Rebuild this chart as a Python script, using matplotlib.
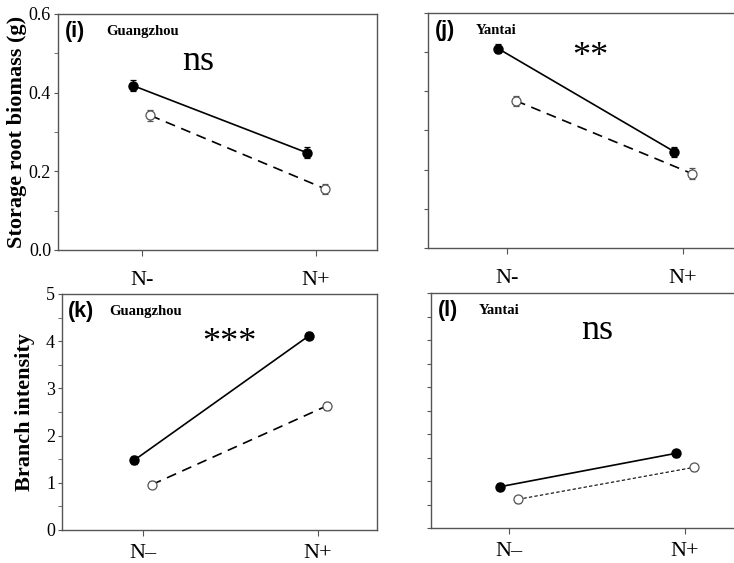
import matplotlib
matplotlib.use("Agg")
import matplotlib.pyplot as plt
from matplotlib.ticker import MultipleLocator

plt.rcParams["font.family"] = ["Liberation Serif", "DejaVu Serif"]

# category positions and labels
cats = [1, 2]
cat_labels_top = ["N-", "N+"]
cat_labels_bot = ["N\u2013", "N+"]
offset = 0.05

# storage root biomass (g)
gz_bio_fill = [0.418, 0.247]
gz_bio_fill_err = [0.015, 0.014]
gz_bio_open = [0.342, 0.156]
gz_bio_open_err = [0.015, 0.013]

yt_bio_fill = [0.509, 0.246]
yt_bio_fill_err = [0.012, 0.013]
yt_bio_open = [0.376, 0.190]
yt_bio_open_err = [0.013, 0.013]

# branch intensity
gz_br_fill = [1.48, 4.12]
gz_br_fill_err = [0.08, 0.08]
gz_br_open = [0.96, 2.63]
gz_br_open_err = [0.07, 0.08]

yt_br_fill = [0.88, 1.59]
yt_br_fill_err = [0.08, 0.07]
yt_br_open = [0.61, 1.29]
yt_br_open_err = [0.08, 0.08]

W, H = 734, 563
fig = plt.figure(figsize=(W / 100, H / 100), dpi=100)


def make_ax(l, t, r, b):
    return fig.add_axes([l / W, (H - b) / H, (r - l) / W, (b - t) / H])


def draw(ax, fill, fill_err, opn, opn_err, xlim, ylim, major, minor,
         labels, show_ylab, dash, dash_lw, tag, site, sig, sig_xy, xpad):
    xf = [c - offset for c in cats]
    xo = [c + offset for c in cats]
    ax.plot(xf, fill, color="black", lw=1.2, zorder=2)
    ax.plot(xo, opn, color="black", lw=dash_lw, linestyle=dash, zorder=2)
    ax.errorbar(xf, fill, yerr=fill_err, fmt="o", color="black", ms=6.5,
                elinewidth=0.9, capsize=2.5, capthick=0.9, zorder=3)
    ax.errorbar(xo, opn, yerr=opn_err, fmt="o", mfc="white", mec="#555555",
                ecolor="#555555", ms=6.5, mew=0.9, elinewidth=0.9,
                capsize=2.5, capthick=0.9, zorder=3)
    ax.set_xlim(*xlim)
    ax.set_ylim(*ylim)
    ax.set_xticks(cats)
    ax.set_xticklabels(labels, fontsize=16)
    ax.yaxis.set_major_locator(MultipleLocator(major))
    ax.yaxis.set_minor_locator(MultipleLocator(minor))
    ax.tick_params(axis="x", length=4, pad=xpad, colors="#555555",
                   labelcolor="black")
    ax.tick_params(axis="y", which="both", length=3, pad=2, colors="#555555",
                   labelcolor="black", labelsize=13, labelleft=show_ylab)
    for s in ax.spines.values():
        s.set_color("#555555")
        s.set_linewidth(1.0)
    ax.text(0.02, 0.97, tag, transform=ax.transAxes, fontsize=15.5,
            fontweight="bold", family="Liberation Sans", va="top")
    ax.text(0.15, 0.955, site, transform=ax.transAxes, fontsize=10.5,
            fontweight="bold", va="top")
    ax.text(sig_xy[0], sig_xy[1], sig, transform=ax.transAxes, fontsize=26,
            ha="center", va="center")


ax1 = make_ax(58, 14, 377, 250)
draw(ax1, gz_bio_fill, gz_bio_fill_err, gz_bio_open, gz_bio_open_err,
     (0.52, 2.35), (0, 0.6), 0.2, 0.1, cat_labels_top, True, (0, (6, 4)), 1.2,
     "(i)", "Guangzhou", "ns", (0.44, 0.80), 11)
ax1.set_ylabel("Storage root biomass (g)", fontsize=16, fontweight="bold",
               labelpad=1)

ax2 = make_ax(428, 13, 747, 248)
draw(ax2, yt_bio_fill, yt_bio_fill_err, yt_bio_open, yt_bio_open_err,
     (0.551, 2.363), (0, 0.6), 0.1, 0.1, cat_labels_top, False, (0, (6, 4)), 1.2,
     "(j)", "Yantai", "**", (0.51, 0.81), 11)

ax3 = make_ax(62, 294, 377, 530)
draw(ax3, gz_br_fill, gz_br_fill_err, gz_br_open, gz_br_open_err,
     (0.537, 2.337), (0, 5), 1, 0.5, cat_labels_bot, True, (0, (6, 4)), 1.2,
     "(k)", "Guangzhou", "***", (0.53, 0.79), 6)
ax3.set_ylabel("Branch intensity", fontsize=16, fontweight="bold",
               labelpad=8)

ax4 = make_ax(431, 293, 750, 528)
draw(ax4, yt_br_fill, yt_br_fill_err, yt_br_open, yt_br_open_err,
     (0.555, 2.37), (0, 5), 0.5, 0.5, cat_labels_bot, False, (0, (3, 2)), 0.8,
     "(l)", "Yantai", "ns", (0.52, 0.84), 6)

fig.savefig("out.png", dpi=100)
